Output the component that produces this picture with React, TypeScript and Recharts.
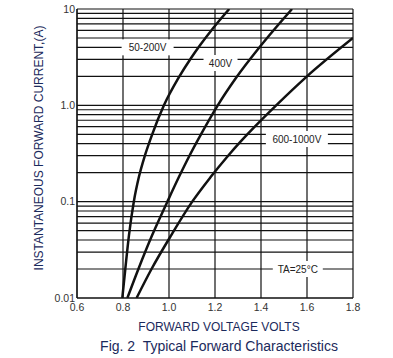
import React from "react";
import { LineChart, Line, XAxis, YAxis, CartesianGrid, ReferenceDot } from "recharts";

// forward voltage (V) / current (A)
const V_50_200 = [0.797, 0.81, 0.826, 0.847, 0.869, 0.895, 0.927, 0.978, 1.04, 1.096, 1.138, 1.189, 1.262];
const A_50_200 = [0.01, 0.02, 0.045, 0.1, 0.18, 0.3, 0.5, 1.0, 1.9, 3.1, 4.3, 6.2, 10];

const V_400 = [0.819, 0.867, 0.927, 0.993, 1.043, 1.089, 1.139, 1.212, 1.291, 1.397, 1.535];
const A_400 = [0.01, 0.02, 0.045, 0.1, 0.18, 0.3, 0.5, 1.0, 1.92, 4.1, 10];

const V_600_1000 = [0.859, 0.924, 1.01, 1.101, 1.181, 1.257, 1.311, 1.354, 1.466, 1.6, 1.8];
const A_600_1000 = [0.01, 0.02, 0.045, 0.1, 0.18, 0.3, 0.42, 0.54, 1.0, 2.0, 5.0];

const X_TICKS = [0.6, 0.8, 1.0, 1.2, 1.4, 1.6, 1.8];
const Y_TICKS = [
  0.01, 0.02, 0.03, 0.04, 0.05, 0.06, 0.07, 0.08, 0.09,
  0.1, 0.2, 0.3, 0.4, 0.5, 0.6, 0.7, 0.8, 0.9,
  1, 2, 3, 4, 5, 6, 7, 8, 9, 10,
];
const Y_LABELS: Record<string, string> = { "0.01": "0.01", "0.1": "0.1", "1": "1.0", "10": "10" };

const NOTES = [
  { text: "50-200V", v: 0.907, a: 4, w: 52 },
  { text: "400V", v: 1.224, a: 2.75, w: 34 },
  { text: "600-1000V", v: 1.556, a: 0.447, w: 62 },
  { text: "TA=25°C", v: 1.56, a: 0.02, w: 50 },
];

const toRows = (vs: number[], as: number[]) => vs.map((v, i) => ({ v, a: as[i] }));

const FONT = '"Liberation Sans", Arial, sans-serif';
const NAVY = "#1b2a5c";

export default function App() {
  const series = [
    { key: "50-200V", data: toRows(V_50_200, A_50_200) },
    { key: "400V", data: toRows(V_400, A_400) },
    { key: "600-1000V", data: toRows(V_600_1000, A_600_1000) },
  ];

  return (
    <div style={{ position: "absolute", left: 0, top: 0, width: 393, height: 358, background: "#fff", fontFamily: FONT }}>
      <LineChart width={393} height={358} margin={{ top: 9, right: 40, bottom: 0, left: 0 }}>
        <CartesianGrid stroke="#111" strokeWidth={1.2} />
        <XAxis
          type="number"
          dataKey="v"
          domain={[0.6, 1.8]}
          ticks={X_TICKS}
          tickFormatter={(t: number) => t.toFixed(1)}
          height={60}
          tickSize={0}
          tickMargin={6}
          axisLine={{ stroke: "#111", strokeWidth: 1.2 }}
          tick={{ fontSize: 10.5, fill: "#333", fontFamily: FONT }}
          allowDataOverflow
        />
        <YAxis
          type="number"
          dataKey="a"
          scale="log"
          domain={[0.01, 10]}
          ticks={Y_TICKS}
          interval={0}
          tickFormatter={(t: number) => Y_LABELS[String(t)] ?? ""}
          width={77}
          tickSize={0}
          tickMargin={2}
          axisLine={{ stroke: "#111", strokeWidth: 1.2 }}
          tick={{ fontSize: 10.5, fill: "#333", fontFamily: FONT }}
          allowDataOverflow
        />
        {series.map((s) => (
          <Line
            key={s.key}
            data={s.data}
            dataKey="a"
            type="monotone"
            stroke="#111"
            strokeWidth={2.5}
            dot={false}
            isAnimationActive={false}
          />
        ))}
        {NOTES.map((n) => (
          <ReferenceDot
            key={n.text}
            x={n.v}
            y={n.a}
            r={0}
            shape={(p: any) => (
              <g>
                <rect x={p.cx - n.w / 2} y={p.cy - 8} width={n.w} height={16} fill="#fff" />
                <text
                  x={p.cx}
                  y={p.cy}
                  textAnchor="middle"
                  dominantBaseline="central"
                  fontSize={10}
                  fill="#222"
                  fontFamily={FONT}
                >
                  {n.text}
                </text>
              </g>
            )}
          />
        ))}
      </LineChart>
      <div
        style={{
          position: "absolute",
          left: 39,
          top: 148,
          transform: "translate(-50%, -50%) rotate(-90deg)",
          whiteSpace: "nowrap",
          fontSize: 12,
          color: NAVY,
        }}
      >
        INSTANTANEOUS FORWARD CURRENT,(A)
      </div>
      <div
        style={{
          position: "absolute",
          left: 219,
          top: 327,
          transform: "translate(-50%, -50%)",
          whiteSpace: "nowrap",
          fontSize: 12,
          color: NAVY,
        }}
      >
        FORWARD VOLTAGE VOLTS
      </div>
      <div
        style={{
          position: "absolute",
          left: 219,
          top: 346,
          transform: "translate(-50%, -50%)",
          whiteSpace: "nowrap",
          fontSize: 14,
          color: NAVY,
        }}
      >
        Fig. 2&nbsp; Typical Forward Characteristics
      </div>
    </div>
  );
}
